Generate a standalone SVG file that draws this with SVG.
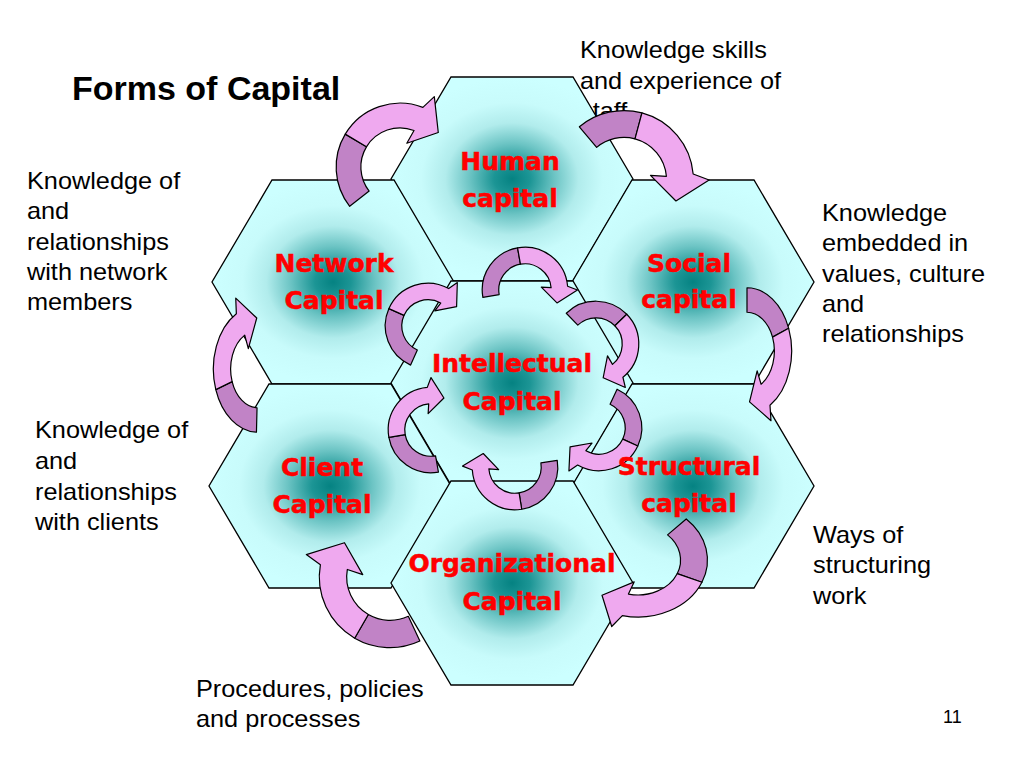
<svg xmlns="http://www.w3.org/2000/svg" width="1024" height="768" viewBox="0 0 1024 768">
<style>
.hex{fill:url(#hexFill);stroke:#000;stroke-width:1.3}
.dk{fill:#c183c6;stroke:#000;stroke-width:1.2;vector-effect:non-scaling-stroke;stroke-linejoin:round}
.lt{fill:#efa9ef;stroke:#000;stroke-width:1.2;vector-effect:non-scaling-stroke;stroke-linejoin:round}
.lbl{font-family:"DejaVu Sans",Verdana,sans-serif;font-weight:bold;font-size:25px;fill:#ff0000;text-anchor:middle;stroke:#ff0000;stroke-width:0.5}
.note{font-family:"Liberation Sans",Arial,sans-serif;font-size:23px;fill:#000}
.title{font-family:"Liberation Sans",Arial,sans-serif;font-weight:bold;font-size:34px;fill:#000}
.num{font-family:"Liberation Sans",Arial,sans-serif;font-size:18px;fill:#000}
</style>
<defs>
<radialGradient id="hexFill" cx="0.5" cy="0.5" r="0.5">
<stop offset="0" stop-color="#058282"/>
<stop offset="0.15" stop-color="#1c9595"/>
<stop offset="0.35" stop-color="#6cc4c4"/>
<stop offset="0.55" stop-color="#b1ecec"/>
<stop offset="0.75" stop-color="#c8fbfb"/>
<stop offset="1" stop-color="#ccffff"/>
</radialGradient>
<polygon id="hex" points="-61,-102 61,-102 121,0 61,102 -61,102 -121,0"/>
<g id="arrL">
<path class="dk" d="M-51.40,34.67 A62,62 0 0 1 -50.79,-35.56 L-31.13,-21.80 A38,38 0 0 0 -31.50,21.25 Z"/>
<path class="lt" d="M-50.79,-35.56 A62,62 0 0 1 26.20,-56.19 L38.00,-65.82 L39.40,-30.79 L8.21,-22.55 L16.06,-34.44 A38,38 0 0 0 -31.13,-21.80 Z"/>
</g>
<g id="arrS">
<path class="dk" d="M-61.06,10.77 A62,62 0 0 1 -43.84,-43.84 L-26.87,-26.87 A38,38 0 0 0 -37.42,6.60 Z"/>
<path class="lt" d="M-43.84,-43.84 A62,62 0 0 1 26.20,-56.19 L38.00,-65.82 L39.40,-30.79 L8.21,-22.55 L16.06,-34.44 A38,38 0 0 0 -26.87,-26.87 Z"/>
</g>
<g id="arrX">
<path class="dk" d="M-21.20,58.26 A62,62 0 0 1 -58.26,-21.20 L-35.71,-13.00 A38,38 0 0 0 -13.00,35.71 Z"/>
<path class="lt" d="M-58.26,-21.20 A62,62 0 0 1 26.20,-56.19 L38.00,-65.82 L39.40,-30.79 L8.21,-22.55 L16.06,-34.44 A38,38 0 0 0 -35.71,-13.00 Z"/>
</g>
</defs>
<rect width="1024" height="768" fill="#fff"/>

<g id="annotations">
<text class="title" x="72" y="100">Forms of Capital</text>
<text class="note" transform="translate(580,0) scale(1.1,1)"><tspan x="0" y="58">Knowledge skills</tspan><tspan x="0" y="89">and experience of</tspan><tspan x="0" y="119">staff</tspan></text>
<text class="note" transform="translate(27,0) scale(1.1,1)"><tspan x="0" y="189">Knowledge of</tspan><tspan x="0" y="219">and</tspan><tspan x="0" y="250">relationships</tspan><tspan x="0" y="280">with network</tspan><tspan x="0" y="310">members</tspan></text>
<text class="note" transform="translate(822,0) scale(1.1,1)"><tspan x="0" y="221">Knowledge</tspan><tspan x="0" y="251">embedded in</tspan><tspan x="0" y="282">values, culture</tspan><tspan x="0" y="312">and</tspan><tspan x="0" y="342">relationships</tspan></text>
<text class="note" transform="translate(35,0) scale(1.1,1)"><tspan x="0" y="438">Knowledge of</tspan><tspan x="0" y="469">and</tspan><tspan x="0" y="500">relationships</tspan><tspan x="0" y="530">with clients</tspan></text>
<text class="note" transform="translate(813,0) scale(1.1,1)"><tspan x="0" y="543">Ways of</tspan><tspan x="0" y="573">structuring</tspan><tspan x="0" y="604">work</tspan></text>
<text class="note" transform="translate(196,0) scale(1.1,1)"><tspan x="0" y="697">Procedures, policies</tspan><tspan x="0" y="727">and processes</tspan></text>
<text class="num" x="943" y="723">11</text>
</g>

<g id="nodes">
<g id="human"><use href="#hex" class="hex" transform="translate(512,179)"/></g>
<g id="network"><use href="#hex" class="hex" transform="translate(333,282)"/></g>
<g id="social"><use href="#hex" class="hex" transform="translate(693,282)"/></g>
<g id="intellectual"><use href="#hex" class="hex" transform="translate(512,383)"/></g>
<g id="client"><use href="#hex" class="hex" transform="translate(330,486)"/></g>
<g id="structural"><use href="#hex" class="hex" transform="translate(693,486)"/></g>
<g id="organizational"><use href="#hex" class="hex" transform="translate(512,583)"/></g>
</g>

<g id="connectors">
<use id="network-to-human" href="#arrL" transform="translate(400,167) rotate(-4) scale(1.03)"/>
<use id="human-to-social" href="#arrS" transform="translate(624,180) rotate(60) scale(1.12)"/>
<use id="social-to-structural" href="#arrL" transform="translate(747,351) scale(0.72,1.02) rotate(124)"/>
<use id="structural-to-organizational" href="#arrL" transform="translate(638,560) scale(1.12,0.92) rotate(168)"/>
<use id="organizational-to-client" href="#arrS" transform="translate(390,577) rotate(-105) scale(1.14)"/>
<use id="client-to-network" href="#arrL" transform="translate(258,369) scale(0.72,1.02) rotate(-54)"/>
<use id="inner-top" href="#arrX" transform="translate(525,290) rotate(60) scale(0.69)"/>
<use id="inner-upper-right" href="#arrX" transform="translate(596,344) rotate(116) scale(0.69)"/>
<use id="inner-lower-right" href="#arrX" transform="translate(599,428) rotate(185) scale(0.69)"/>
<use id="inner-bottom" href="#arrX" transform="translate(515,467) rotate(241) scale(0.69)"/>
<use id="inner-lower-left" href="#arrX" transform="translate(431,430) rotate(-30) scale(0.69)"/>
<use id="inner-upper-left" href="#arrX" transform="translate(428,326) rotate(4) scale(0.69)"/>
</g>

<g id="labels">
<g id="human-label"><text class="lbl"><tspan x="510" y="170">Human</tspan><tspan x="510" y="207">capital</tspan></text></g>
<g id="network-label"><text class="lbl"><tspan x="334" y="272">Network</tspan><tspan x="334" y="309">Capital</tspan></text></g>
<g id="social-label"><text class="lbl"><tspan x="689" y="272">Social</tspan><tspan x="689" y="308">capital</tspan></text></g>
<g id="intellectual-label"><text class="lbl"><tspan x="512" y="372">Intellectual</tspan><tspan x="512" y="410">Capital</tspan></text></g>
<g id="client-label"><text class="lbl"><tspan x="322" y="476">Client</tspan><tspan x="322" y="513">Capital</tspan></text></g>
<g id="structural-label"><text class="lbl"><tspan x="689" y="475">Structural</tspan><tspan x="689" y="512">capital</tspan></text></g>
<g id="organizational-label"><text class="lbl"><tspan x="512" y="572">Organizational</tspan><tspan x="512" y="610">Capital</tspan></text></g>
</g>
</svg>
